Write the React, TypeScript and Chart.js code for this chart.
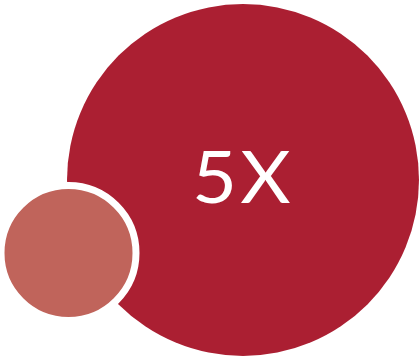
import React, { useEffect, useRef } from "react";
import { Chart, registerables } from "chart.js";

Chart.register(...registerables);

const bubbleNames = ["Small", "Large"];
const xValues = [68.5, 243];
const yValues = [253, 180];
const rValues = [67.5, 176];
const fillColors = ["#C0645B", "#AB1F32"];
const borderWidths = [7, 0];
const centerLabel = "5X";

const labelPlugin = {
  id: "centerLabel",
  afterDatasetsDraw(chart: any) {
    const ctx = chart.ctx;
    const xs = chart.scales.x;
    const ys = chart.scales.y;
    const px = xs.getPixelForValue(xValues[1]);
    const py = ys.getPixelForValue(yValues[1]);
    ctx.save();
    ctx.fillStyle = "#ffffff";
    ctx.font = "400 72px Lato";
    ctx.textAlign = "center";
    ctx.textBaseline = "alphabetic";
    (ctx as any).letterSpacing = "3px";
    ctx.translate(px, py + 23);
    ctx.scale(1.08, 1);
    ctx.fillText(centerLabel, 0, 0);
    ctx.restore();
  },
};

export default function App() {
  const ref = useRef<HTMLCanvasElement>(null);
  useEffect(() => {
    document.body.style.margin = "0";
    const canvas = ref.current!;
    const chart = new Chart(canvas, {
      type: "bubble",
      data: {
        datasets: bubbleNames.map((name, i) => ({
          label: name,
          data: [{ x: xValues[i], y: yValues[i], r: rValues[i] }],
          backgroundColor: fillColors[i],
          borderColor: "#ffffff",
          borderWidth: borderWidths[i],
          hoverBorderWidth: borderWidths[i],
          clip: false as any,
        })),
      },
      options: {
        animation: false,
        responsive: false,
        events: [],
        layout: { padding: 0, autoPadding: false },
        plugins: { legend: { display: false }, tooltip: { enabled: false } },
        scales: {
          x: { type: "linear", min: 0, max: 420, display: false },
          y: { type: "linear", min: 0, max: 358, reverse: true, display: false },
        },
      },
      plugins: [labelPlugin],
    });
    return () => chart.destroy();
  }, []);
  return <canvas ref={ref} width={420} height={358} style={{ display: "block" }} />;
}
